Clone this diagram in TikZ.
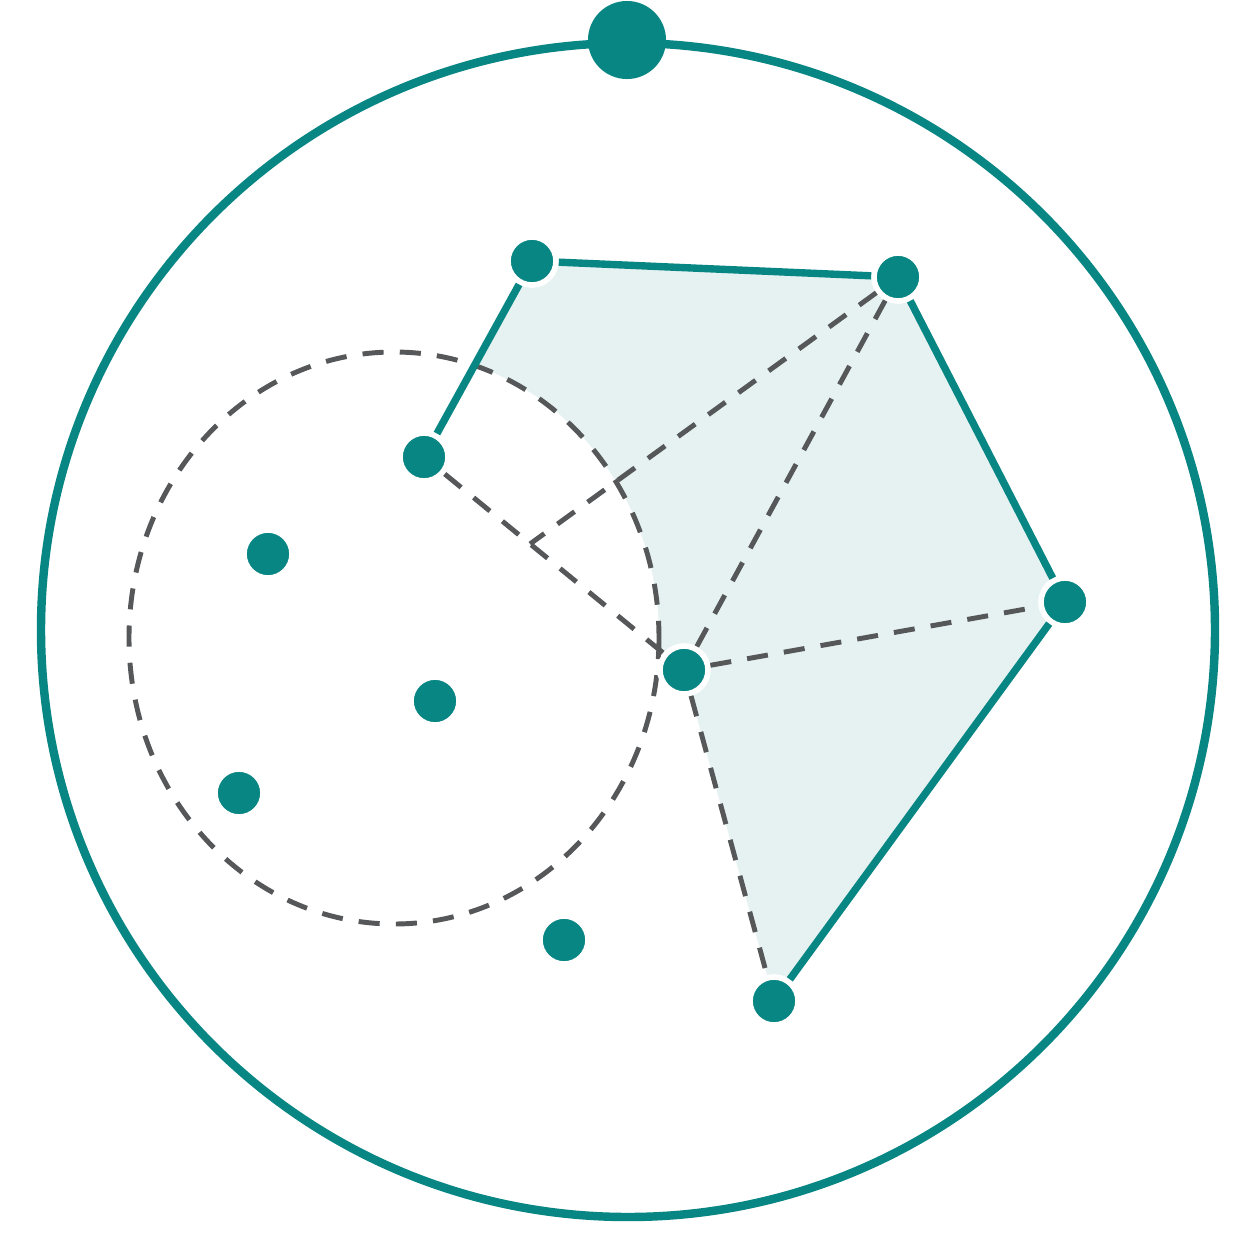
\documentclass[tikz,border=0pt]{standalone}
\usetikzlibrary{calc}
\definecolor{teal1}{RGB}{8,134,131}
\definecolor{tealfill}{RGB}{229,242,241}
\definecolor{dashgray}{RGB}{85,87,88}
\tikzset{
  dot/.style={circle, inner sep=0pt, minimum size=0.48cm, fill=teal1, draw=white, line width=1.6pt},
  bigdot/.style={circle, inner sep=0pt, minimum size=0.78cm, fill=teal1},
  solidedge/.style={draw=teal1, line width=2.1pt},
  dashedge/.style={draw=dashgray, line width=1.4pt, dash pattern=on 6pt off 4.6pt},
  outer/.style={draw=teal1, line width=2.4pt},
}
\begin{document}
\begin{tikzpicture}[x=0.01cm, y=-0.01cm]
\useasboundingbox (0,0) rectangle (1254,1254);
\fill[white] (0,0) rectangle (1254,1254);
% outer circle
\draw[outer] (628,630) circle[radius=587];
% coordinates of vertices
\coordinate (cA) at (532,261);
\coordinate (cB) at (898,277);
\coordinate (cC) at (1065,602);
\coordinate (cD) at (684,670);
\coordinate (cE) at (774,1001);
\coordinate (cF) at (424,457);
% shaded region
\fill[tealfill] (cF) -- (cA) -- (cB) -- (cC) -- (cE) -- (cD) -- cycle;
\fill[white] (394,638) ellipse[x radius=265, y radius=286];
% dashed ellipse
\draw[dashedge] (394,638) ellipse[x radius=265, y radius=286];
% nodes
\node[bigdot] (top) at (627,40) {};
\node[dot] (A) at (cA) {};
\node[dot] (B) at (cB) {};
\node[dot] (C) at (cC) {};
\node[dot] (D) at (cD) {};
\node[dot] (E) at (cE) {};
\node[dot] (F) at (cF) {};
\node[dot] (G) at (268,554) {};
\node[dot] (H) at (435,701) {};
\node[dot] (I) at (239,793) {};
\node[dot] (J) at (564,940) {};
\coordinate (P) at ($(cF)!0.408!(cD)$);
% solid edges
\draw[solidedge] (F) -- (A);
\draw[solidedge] (A) -- (B);
\draw[solidedge] (B) -- (C);
\draw[solidedge] (C) -- (E);
% dashed edges
\draw[dashedge] (F) -- (D);
\draw[dashedge] (D) -- (B);
\draw[dashedge] (D) -- (C);
\draw[dashedge] (D) -- (E);
\draw[dashedge] (B) -- (P);
\end{tikzpicture}
\end{document}
